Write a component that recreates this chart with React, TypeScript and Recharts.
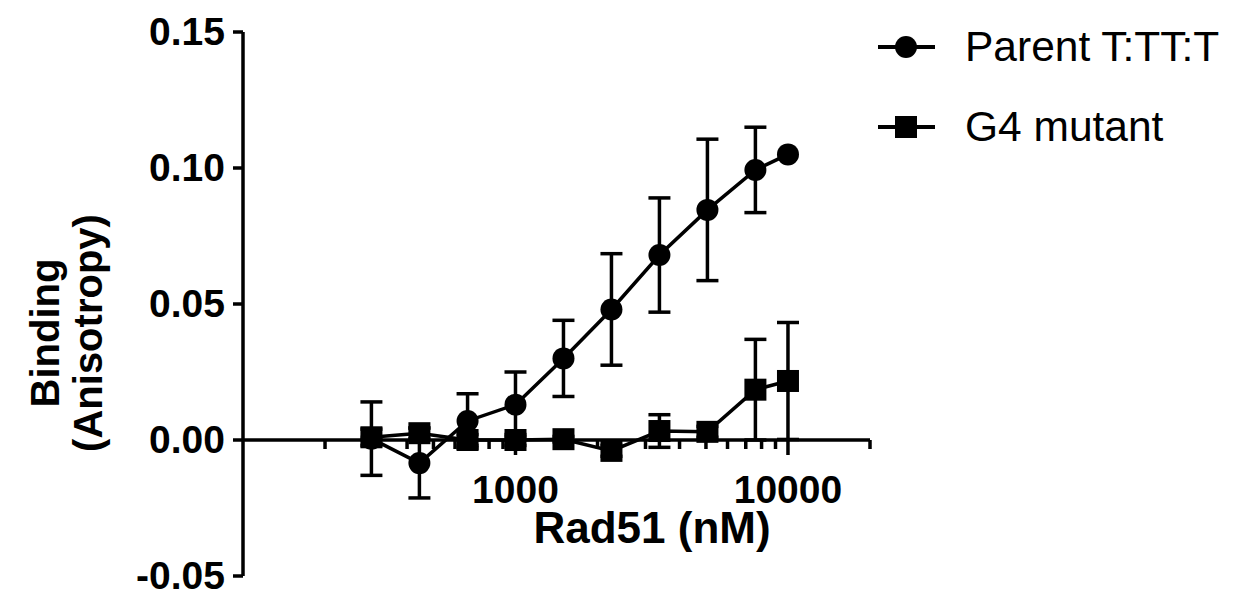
import React from 'react';
import { ComposedChart, Line, XAxis, YAxis, ErrorBar, ReferenceLine, Legend, Label } from 'recharts';

// Rad51 concentration (nM), 1.5-fold dilution series
const concentrations = [296, 444, 667, 1000, 1500, 2250, 3375, 5063, 7594, 10000];
const parentMean = [0.0005, -0.0085, 0.007, 0.013, 0.03, 0.048, 0.068, 0.0846, 0.0993, 0.105];
const parentSd = [0.0135, 0.0128, 0.01, 0.012, 0.014, 0.0205, 0.021, 0.026, 0.0157, 0];
const g4Mean = [0.001, 0.0025, 0.0, 0.0, 0.0003, -0.004, 0.0033, 0.003, 0.0185, 0.0217];
const g4Sd = [0.003, 0.002, 0.002, 0.002, 0.001, 0.002, 0.006, 0.002, 0.0185, 0.0215];

const yTicks = [-0.05, 0, 0.05, 0.1, 0.15];
const xTicks = [
  200, 300, 400, 500, 600, 700, 800, 900, 1000,
  2000, 3000, 4000, 5000, 6000, 7000, 8000, 9000, 10000, 20000,
];
const xLabelledTicks = [1000, 10000];

const FONT = '"Liberation Sans", Arial, Helvetica, sans-serif';
const CHART_W = 1240;
const CHART_H = 591;
const MARGIN = { top: 32, right: 370, bottom: 10, left: 113 };
const Y_AXIS_W = 130;
const X_AXIS_H = 5;
const Y_DOMAIN: [number, number] = [-0.05, 0.15];
const PLOT_H = CHART_H - MARGIN.top - MARGIN.bottom - X_AXIS_H;
const ZERO_OFFSET = (PLOT_H * (0 - Y_DOMAIN[0])) / (Y_DOMAIN[1] - Y_DOMAIN[0]);
const ZERO_Y = MARGIN.top + PLOT_H - ZERO_OFFSET;
const PLOT_LEFT = MARGIN.left + Y_AXIS_W;
const STROKE = 3.5;

const chartData = concentrations.map((c, i) => ({
  conc: c,
  parent: parentMean[i],
  parentSd: parentSd[i],
  g4: g4Mean[i],
  g4Sd: g4Sd[i],
}));

// x axis is drawn at y = 0, so ticks are shifted up from the bottom of the plot
function XTick(props: any) {
  const { x, y, payload } = props;
  const v = payload.value;
  const major = xLabelledTicks.includes(v);
  const y0 = y - ZERO_OFFSET;
  return (
    <g>
      <line x1={x} x2={x} y1={y0} y2={y0 + (major ? 15 : 9)} stroke="#000" strokeWidth={STROKE} />
      {major && (
        <text x={x} y={y0 + 63} textAnchor="middle" fontSize={39} fontWeight="bold" fontFamily={FONT} fill="#000">
          {v}
        </text>
      )}
    </g>
  );
}

function YTick(props: any) {
  const { x, y, payload } = props;
  return (
    <text x={x} y={y} dy={13} textAnchor="end" fontSize={39} fontWeight="bold" fontFamily={FONT} fill="#000">
      {payload.value.toFixed(2)}
    </text>
  );
}

function SquareDot(props: any) {
  const { cx, cy, index } = props;
  if (cx == null || cy == null) return null;
  return <rect key={`sq-${index}`} x={cx - 11} y={cy - 11} width={22} height={22} fill="#000" />;
}

function YTitle() {
  const cy = 333;
  return (
    <g fontFamily={FONT} fontWeight="bold" fontSize={40} fill="#000">
      <text x={59} y={cy} textAnchor="middle" transform={`rotate(-90, 59, ${cy})`}>Binding</text>
      <text x={102} y={cy} textAnchor="middle" transform={`rotate(-90, 102, ${cy})`}>(Anisotropy)</text>
    </g>
  );
}

function XTitle() {
  return (
    <text x={PLOT_LEFT + 409} y={ZERO_Y + 103} textAnchor="middle" fontFamily={FONT} fontWeight="bold" fontSize={44} fill="#000">
      Rad51 (nM)
    </text>
  );
}

const legendItems = [
  { name: 'Parent T:TT:T', shape: 'circle' },
  { name: 'G4 mutant', shape: 'square' },
];

function renderLegend() {
  return (
    <div style={{ fontFamily: FONT, fontSize: 42.5, color: '#000' }}>
      {legendItems.map((item) => (
        <div key={item.name} style={{ display: 'flex', alignItems: 'center', height: 80 }}>
          <svg width={70} height={30}>
            <line x1={8} x2={65} y1={15} y2={15} stroke="#000" strokeWidth={4} />
            {item.shape === 'circle' ? (
              <circle cx={36} cy={15} r={11} fill="#000" />
            ) : (
              <rect x={25} y={4} width={22} height={22} fill="#000" />
            )}
          </svg>
          <span style={{ marginLeft: 25, whiteSpace: 'nowrap' }}>{item.name}</span>
        </div>
      ))}
    </div>
  );
}

export default function App() {
  return (
    <div style={{ position: 'absolute', left: 0, top: 0, width: CHART_W, height: CHART_H, background: '#fff' }}>
      <ComposedChart width={CHART_W} height={CHART_H} data={chartData} margin={MARGIN}>
        <XAxis
          type="number"
          dataKey="conc"
          scale="log"
          domain={[100, 20000]}
          ticks={xTicks}
          interval={0}
          allowDataOverflow
          tick={XTick}
          tickLine={false}
          axisLine={false}
          tickSize={0}
          tickMargin={0}
          height={X_AXIS_H}
        >
          <Label content={XTitle} />
        </XAxis>
        <YAxis
          type="number"
          domain={Y_DOMAIN}
          ticks={yTicks}
          interval={0}
          width={Y_AXIS_W}
          tick={YTick}
          axisLine={{ stroke: '#000', strokeWidth: STROKE }}
          tickLine={{ stroke: '#000', strokeWidth: STROKE }}
          tickSize={10}
          tickMargin={8}
        >
          <Label content={YTitle} />
        </YAxis>
        <ReferenceLine y={0} stroke="#000" strokeWidth={STROKE} />
        <Legend
          layout="vertical"
          align="center"
          verticalAlign="middle"
          content={renderLegend}
          wrapperStyle={{ left: 870, top: 7, width: 370 }}
        />
        <Line
          type="linear"
          dataKey="parent"
          name="Parent T:TT:T"
          stroke="#000"
          strokeWidth={STROKE}
          dot={{ r: 11, fill: '#000', stroke: '#000', strokeWidth: 0 }}
          activeDot={false}
          isAnimationActive={false}
        >
          <ErrorBar dataKey="parentSd" direction="y" width={11} stroke="#000" strokeWidth={STROKE} />
        </Line>
        <Line
          type="linear"
          dataKey="g4"
          name="G4 mutant"
          stroke="#000"
          strokeWidth={STROKE}
          dot={SquareDot}
          activeDot={false}
          isAnimationActive={false}
        >
          <ErrorBar dataKey="g4Sd" direction="y" width={11} stroke="#000" strokeWidth={STROKE} />
        </Line>
      </ComposedChart>
    </div>
  );
}
